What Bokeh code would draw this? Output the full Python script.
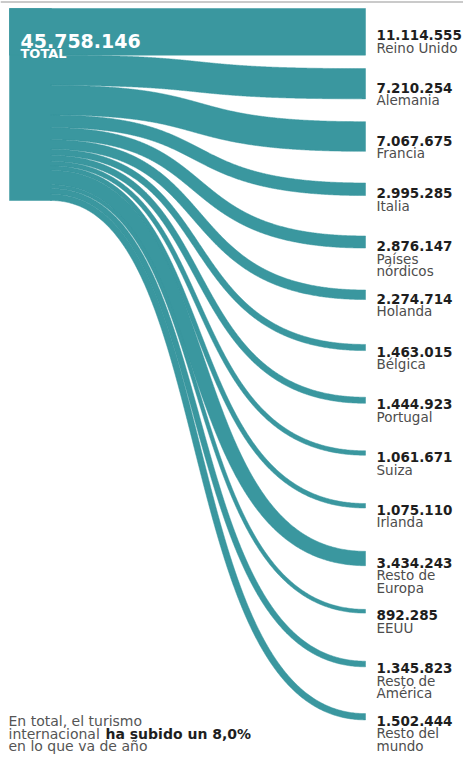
import numpy as np
from bokeh.plotting import figure
from bokeh.models import Range1d
from bokeh.embed import file_html
from bokeh.resources import INLINE
from bokeh.core.properties import value

# ---- data ----
countries = ["Reino Unido", "Alemania", "Francia", "Italia", "Países\nnórdicos",
             "Holanda", "Bélgica", "Portugal", "Suiza", "Irlanda",
             "Resto de\nEuropa", "EEUU", "Resto de\nAmérica", "Resto del\nmundo"]
tourists = [11114555, 7210254, 7067675, 2995285, 2876147, 2274714, 1463015,
            1444923, 1061671, 1075110, 3434243, 892285, 1345823, 1502444]
total = 45758146
total_label = "45.758.146"
total_word = "TOTAL"
note_lines = ["En total, el turismo", "internacional", "en lo que va de año"]
note_bold = "ha subido un 8,0%"

# ---- layout (data space == figure pixels) ----
TEAL = "#3a979f"
W, H = 463, 754
X_LEFT, X_SPLIT, X_END = 9, 50, 365
Y_TOP, Y_BOT = 8, 200
FIRST_C, STEP = 30.5, 52.75
LABEL_X = 376
FONT = value("DejaVu Sans")

p = figure(width=W, height=H, output_backend="svg", toolbar_location=None,
           x_range=Range1d(0, W), y_range=Range1d(H, 0),
           min_border=0, outline_line_color=None, background_fill_color="white",
           border_fill_color="white")
p.axis.visible = False
p.grid.visible = False

# thin rule at the very top
p.line(x=[0, W], y=[1.5, 1.5], line_color="#b8b8b8", line_width=1.5)

scale = (Y_BOT - Y_TOP) / total
widths = [v * scale for v in tourists]
starts = np.concatenate([[Y_TOP], Y_TOP + np.cumsum(widths)[:-1]])

xs_list, ys_list = [], []
xs_list.append([X_LEFT, X_SPLIT + 1, X_SPLIT + 1, X_LEFT])
ys_list.append([Y_TOP, Y_TOP, Y_BOT, Y_BOT])
t = np.linspace(0, 1, 400)
L = X_END - X_SPLIT
a, b = 0.55, 0.62
for i, w in enumerate(widths):
    sc = starts[i] + w / 2
    if i == 0:
        xs_list.append([X_LEFT, X_END, X_END, X_LEFT])
        ys_list.append([starts[0], starts[0], starts[0] + w, starts[0] + w])
        continue
    tc = FIRST_C + i * STEP
    P0 = np.array([X_SPLIT, sc]); P1 = np.array([X_SPLIT + a * L, sc])
    P2 = np.array([X_END - b * L, tc]); P3 = np.array([X_END, tc])
    tt = t[:, None]
    B = (1 - tt) ** 3 * P0 + 3 * (1 - tt) ** 2 * tt * P1 + 3 * (1 - tt) * tt ** 2 * P2 + tt ** 3 * P3
    D = 3 * (1 - tt) ** 2 * (P1 - P0) + 6 * (1 - tt) * tt * (P2 - P1) + 3 * tt ** 2 * (P3 - P2)
    D = D / np.linalg.norm(D, axis=1)[:, None]
    N = np.stack([-D[:, 1], D[:, 0]], axis=1)
    e1 = B + N * w / 2
    e2 = B - N * w / 2
    poly = np.concatenate([e1, e2[::-1]])
    xs_list.append(list(poly[:, 0]))
    ys_list.append(list(poly[:, 1]))

p.patches(xs=xs_list, ys=ys_list, fill_color=TEAL, line_color=TEAL, line_width=0.5)

# ---- labels ----
num_x, num_y, num_t = [], [], []
name_x, name_y, name_t = [], [], []
for i, (c, v) in enumerate(zip(countries, tourists)):
    cy = FIRST_C + i * STEP
    num_x.append(LABEL_X); num_y.append(cy + 4)
    num_t.append(f"{v:,}".replace(",", "."))
    for j, line in enumerate(c.split("\n")):
        name_x.append(LABEL_X); name_y.append(cy + 16.5 + 12.5 * j); name_t.append(line)

p.text(x=num_x, y=num_y, text=num_t, text_font=FONT, text_font_size="13.5px",
       text_font_style="bold", text_color="#1e1e1e", text_baseline="alphabetic")
p.text(x=name_x, y=name_y, text=name_t, text_font=FONT, text_font_size="13.5px",
       text_color="#4d4d4d", text_baseline="alphabetic")

p.text(x=[20], y=[40], text=[total_label], text_font=FONT, text_font_size="19px",
       text_font_style="bold", text_color="white", text_baseline="alphabetic")
p.text(x=[20], y=[53], text=[total_word], text_font=FONT, text_font_size="13px",
       text_font_style="bold", text_color="white", text_baseline="alphabetic")

p.text(x=[8, 8, 8], y=[720.5, 733, 745.5], text=note_lines, text_font=FONT,
       text_font_size="14px", text_color="#555555", text_baseline="alphabetic")
p.text(x=[105], y=[733], text=[note_bold], text_font=FONT, text_font_size="14px",
       text_font_style="bold", text_color="#1e1e1e", text_baseline="alphabetic")

open("out.html", "w").write(file_html(p, INLINE))
